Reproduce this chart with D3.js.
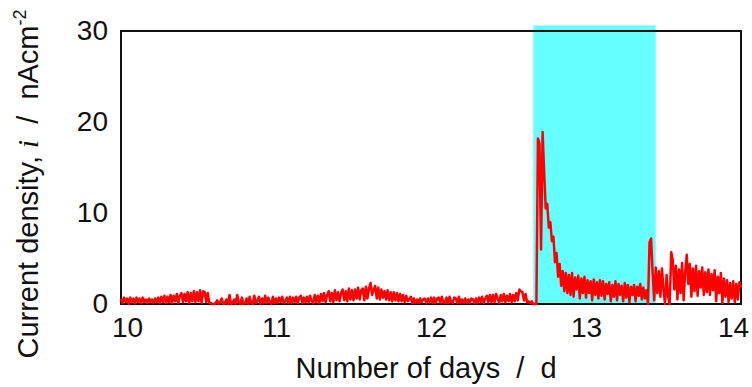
<!DOCTYPE html>
<html><head><meta charset="utf-8">
<script src="https://cdn.jsdelivr.net/npm/d3@7"></script>
<style>
body{margin:0;background:#fff;}
text{font-family:"Liberation Sans",Arial,sans-serif;fill:#111;white-space:pre;}
</style></head>
<body>
<svg id="chart" width="752" height="387"></svg>
<script>
// ---- data ----
const dayStart = 10.0, dayStep = 0.01;
const xTicks = [10, 11, 12, 13, 14];
const yTicks = [0, 10, 20, 30];
const lightPeriod = [12.66, 13.45];
const lightTop = 30.6;
// current density (nA cm^-2), sampled every 0.01 d
const current10 = [
 0.6,0.1,0.7,0.2,0.6,0.0,0.7,0.2,0.6,0.1,
 0.7,0.2,0.6,0.1,0.7,0.2,0.5,0.1,0.6,0.2,
 0.5,0.1,0.6,0.2,0.7,0.1,0.8,0.2,0.9,0.1,
 0.8,0.2,1.0,0.1,0.9,0.3,1.1,0.1,0.9,1.2,
 0.2,1.1,0.3,1.3,0.1,1.2,0.3,1.4,0.2,1.3,
 0.3,1.5,0.1,1.4,1.3,0.2,1.2,0.1,0.1,0.0,
 0.0,0.1,0.4,0.0,0.2,0.6,0.0,0.1,0.5,0.0,
 1.0,0.0,0.1,0.5,0.0,1.0,0.2,0.0,0.7,0.0,
 0.1,0.6,0.0,0.8,0.1,0.0,0.9,0.1,0.3,0.8,
 0.0,0.6,0.1,0.9,0.1,0.7,0.2,0.0,0.8,0.1];
const current11 = [
 0.6,0.1,0.7,0.2,0.8,0.1,0.3,0.7,0.1,0.8,
 0.1,0.7,0.2,0.8,0.1,0.7,0.9,0.1,0.7,0.2,
 0.8,0.1,0.9,0.3,0.1,1.0,0.2,0.9,0.1,1.1,
 0.3,1.2,0.2,1.0,1.4,0.3,1.2,0.2,1.5,0.4,
 1.3,0.3,1.2,1.6,0.4,1.4,0.3,1.7,0.5,1.5,
 0.4,1.6,0.6,1.8,0.5,1.5,1.7,0.4,1.9,0.6,
 1.7,2.3,1.0,1.6,2.0,0.6,1.8,0.5,1.6,0.7,
 1.4,0.5,1.5,0.4,1.3,0.3,1.3,0.4,1.2,0.3,
 1.1,0.3,1.0,0.2,0.9,0.3,0.5,0.8,0.1,0.6,
 0.1,0.5,0.1,0.6,0.2,0.5,0.6,0.1,0.6,0.2];
const current12 = [
 0.7,0.1,0.7,0.1,0.6,0.7,0.1,0.8,0.2,0.1,
 0.7,0.1,0.8,0.2,0.1,0.7,0.6,0.1,0.8,0.1,
 0.5,0.1,0.6,0.1,0.5,0.1,0.6,0.5,0.1,0.6,
 0.1,0.7,0.2,0.8,0.1,0.6,0.9,0.2,1.0,0.2,
 1.0,0.2,1.1,0.6,0.1,1.0,0.3,1.1,0.2,0.9,
 0.3,1.1,0.2,1.0,0.3,1.2,0.4,1.6,1.4,1.3,
 0.4,1.1,0.2,0.3,0.1,0.3,0.0,0.0,0.0,18.2,
 17.6,6.0,18.9,14.5,10.5,11.0,8.4,9.0,6.9,7.4,
 4.6,5.6,3.0,4.4,2.0,3.6,1.4,3.4,1.2,3.2,
 1.0,3.4,0.8,2.9,1.6,3.1,0.6,2.8,1.2,3.0];
const current13 = [
 0.7,2.6,1.2,2.5,0.4,2.7,1.0,2.4,0.6,2.6,
 0.9,2.5,0.5,2.2,1.1,2.4,0.3,2.1,0.8,2.5,
 0.4,2.2,1.0,2.0,0.3,2.3,0.7,2.1,0.2,1.9,
 1.0,2.1,0.3,1.9,0.9,2.2,0.5,1.8,0.6,1.5,
 0.0,6.8,7.2,3.4,0.4,4.0,1.2,3.6,0.8,3.9,
 1.6,0.0,3.2,0.8,0.0,5.7,4.8,1.6,4.2,0.5,
 3.8,1.2,4.5,0.4,3.5,5.4,2.2,4.4,0.8,3.9,
 1.4,4.2,0.9,3.6,1.8,4.0,1.0,3.5,1.3,3.8,
 1.0,3.3,1.5,3.7,0.3,3.0,1.2,3.4,0.1,2.8,
 0.8,2.6,0.2,2.3,0.6,2.5,0.2,2.2,0.5,2.4];
const current14 = [1.8];

const currentAll = [].concat(current10, current11, current12, current13, current14);
const series = currentAll.map((v, i) => ({day: dayStart + i * dayStep, value: v}));

// ---- chart ----
const svg = d3.select("#chart");
const mLeft = 121, mRight = 741, mTop = 31, mBottom = 304;
const x = d3.scaleLinear().domain([10, 14]).range([mLeft, mRight]);
const y = d3.scaleLinear().domain([0, 30]).range([mBottom, mTop]);

// light period band
svg.append("rect")
  .attr("x", x(lightPeriod[0]))
  .attr("y", y(lightTop))
  .attr("width", x(lightPeriod[1]) - x(lightPeriod[0]))
  .attr("height", y(0) - y(lightTop))
  .attr("fill", "#66ffff");

// frame
svg.append("rect")
  .attr("x", mLeft).attr("y", mTop)
  .attr("width", mRight - mLeft).attr("height", mBottom - mTop)
  .attr("fill", "none").attr("stroke", "#111").attr("stroke-width", 2);

// line
const line = d3.line().x(d => x(d.day)).y(d => y(d.value));
svg.append("path").datum(series)
  .attr("d", line)
  .attr("fill", "none")
  .attr("stroke", "#ff0000")
  .attr("stroke-width", 2.5)
  .attr("stroke-linejoin", "round");

// axes
const xAxis = svg.append("g").attr("transform", `translate(0,${mBottom})`)
  .call(d3.axisBottom(x).tickValues(xTicks).tickFormat(d3.format("d")).tickSize(0).tickPadding(13));
const yAxis = svg.append("g").attr("transform", `translate(${mLeft},0)`)
  .call(d3.axisLeft(y).tickValues(yTicks).tickFormat(d3.format("d")).tickSize(0).tickPadding(13));
[xAxis, yAxis].forEach(g => {
  g.select(".domain").remove();
  g.selectAll("text").attr("font-size", 28).attr("font-family", "Liberation Sans, Arial, sans-serif").attr("fill", "#111");
});
xAxis.selectAll(".tick text").filter(d => d === 10).attr("dx", 6);
xAxis.selectAll(".tick text").filter(d => d === 14).attr("dx", -8);

// axis titles
svg.append("text")
  .attr("x", 426).attr("y", 378)
  .attr("text-anchor", "middle").attr("font-size", 29)
  .text("Number of days \u00a0/\u00a0 d");

const yt = svg.append("text")
  .attr("transform", "translate(38,184) rotate(-90)")
  .attr("text-anchor", "middle").attr("font-size", 29);
yt.append("tspan").text("Current density, ");
yt.append("tspan").attr("font-style", "italic").attr("font-family", "Liberation Serif, serif").text("i");
yt.append("tspan").text("\u00a0 / \u00a0nAcm");
yt.append("tspan").attr("font-size", 18).attr("dy", -12).text("-2");
</script>
</body></html>
